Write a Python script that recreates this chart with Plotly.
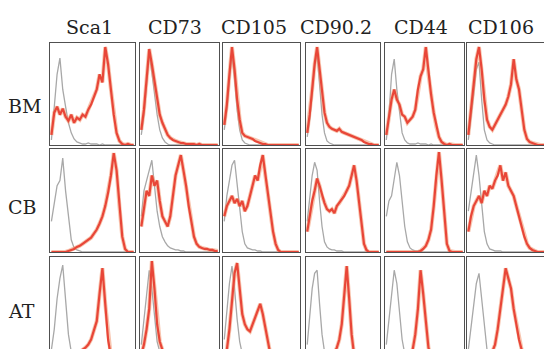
import plotly.graph_objects as go

markers = ["Sca1", "CD73", "CD105", "CD90.2", "CD44", "CD106"]
sources = ["BM", "CB", "AT"]
bins = list(range(30))

# ---- BM row (red = marker, gray = isotype) ----
bm_sca1_red  = [10, 32, 38, 30, 36, 28, 24, 30, 22, 27, 25, 30, 28, 35, 40, 48, 55, 70, 62, 97, 80, 55, 30, 12, 4, 1, 0, 1, 0, 0]
bm_sca1_iso  = [5, 35, 70, 86, 55, 38, 22, 12, 6, 3, 2, 1, 1, 2, 1, 1, 1, 0, 1, 0, 0, 0, 0, 0, 0, 0, 0, 0, 0, 0]
bm_cd73_red  = [15, 35, 65, 95, 80, 62, 45, 30, 22, 15, 10, 7, 5, 4, 3, 2, 2, 1, 1, 1, 1, 0, 1, 0, 0, 0, 0, 0, 0, 0]
bm_cd73_iso  = [10, 30, 60, 90, 72, 50, 30, 15, 7, 3, 1, 0, 0, 0, 0, 0, 0, 0, 0, 0, 0, 0, 0, 0, 0, 0, 0, 0, 0, 0]
bm_cd105_red = [20, 40, 70, 97, 75, 45, 25, 12, 9, 8, 7, 6, 4, 3, 2, 1, 1, 0, 0, 0, 0, 0, 0, 0, 0, 0, 0, 0, 0, 0]
bm_cd105_iso = [15, 35, 65, 90, 65, 35, 15, 5, 2, 1, 0, 0, 0, 0, 0, 0, 0, 0, 0, 0, 0, 0, 0, 0, 0, 0, 0, 0, 0, 0]
bm_cd90_red  = [12, 30, 55, 80, 97, 75, 50, 32, 22, 18, 16, 15, 14, 16, 13, 12, 11, 10, 9, 8, 7, 6, 5, 3, 2, 1, 1, 0, 0, 0]
bm_cd90_iso  = [8, 25, 50, 78, 90, 60, 30, 12, 4, 2, 1, 0, 0, 0, 0, 0, 0, 0, 0, 0, 0, 0, 0, 0, 0, 0, 0, 0, 0, 0]
bm_cd44_red  = [10, 30, 45, 55, 45, 40, 30, 28, 22, 25, 28, 35, 55, 68, 75, 97, 70, 50, 32, 18, 8, 3, 1, 0, 1, 0, 0, 0, 0, 0]
bm_cd44_iso  = [5, 30, 70, 85, 55, 30, 12, 5, 2, 1, 1, 1, 2, 1, 1, 1, 0, 1, 0, 0, 0, 0, 0, 0, 0, 0, 0, 0, 0, 0]
bm_cd106_red = [10, 35, 60, 85, 97, 75, 45, 25, 18, 15, 20, 25, 30, 35, 40, 48, 60, 85, 65, 55, 35, 15, 6, 3, 2, 1, 0, 0, 0, 0]
bm_cd106_iso = [5, 25, 50, 75, 82, 45, 15, 5, 2, 1, 0, 0, 0, 0, 0, 0, 0, 0, 0, 0, 0, 0, 0, 0, 0, 0, 0, 0, 0, 0]

# ---- CB row ----
cb_sca1_red  = [0, 0, 0, 0, 0, 0, 1, 2, 3, 5, 6, 8, 10, 12, 14, 18, 22, 28, 35, 45, 58, 75, 97, 80, 45, 15, 3, 0, 0, 0]
cb_sca1_iso  = [30, 50, 65, 70, 92, 60, 35, 12, 4, 2, 1, 0, 0, 0, 0, 0, 0, 0, 0, 0, 0, 0, 0, 0, 0, 0, 0, 0, 0, 0]
cb_cd73_red  = [25, 45, 60, 55, 75, 65, 70, 50, 35, 30, 25, 35, 55, 75, 85, 95, 80, 65, 45, 30, 15, 8, 5, 4, 3, 3, 2, 2, 1, 1]
cb_cd73_iso  = [35, 60, 70, 80, 90, 65, 40, 25, 15, 10, 6, 4, 3, 2, 2, 1, 1, 0, 0, 0, 0, 0, 0, 0, 0, 0, 0, 0, 0, 0]
cb_cd105_red = [35, 45, 50, 55, 48, 52, 45, 50, 40, 45, 55, 65, 75, 70, 85, 95, 75, 55, 35, 20, 8, 2, 0, 0, 0, 0, 0, 0, 0, 0]
cb_cd105_iso = [30, 55, 70, 85, 90, 65, 40, 20, 8, 4, 3, 2, 2, 1, 1, 0, 0, 0, 0, 0, 0, 0, 0, 0, 0, 0, 0, 0, 0, 0]
cb_cd90_red  = [20, 35, 50, 60, 72, 65, 55, 48, 42, 40, 42, 38, 45, 48, 52, 55, 60, 65, 75, 85, 70, 50, 25, 8, 2, 0, 0, 0, 0, 0]
cb_cd90_iso  = [30, 55, 75, 88, 80, 50, 25, 10, 5, 3, 2, 2, 1, 1, 1, 0, 0, 0, 0, 0, 0, 0, 0, 0, 0, 0, 0, 0, 0, 0]
cb_cd44_red  = [0, 0, 0, 0, 0, 0, 0, 0, 0, 0, 0, 0, 0, 1, 3, 6, 12, 22, 45, 75, 98, 70, 35, 8, 1, 0, 0, 0, 0, 0]
cb_cd44_iso  = [35, 50, 55, 70, 88, 75, 50, 25, 10, 4, 2, 1, 1, 1, 0, 0, 0, 0, 0, 0, 0, 0, 0, 0, 0, 0, 0, 0, 0, 0]
cb_cd106_red = [20, 35, 45, 50, 55, 48, 60, 55, 65, 62, 70, 75, 85, 70, 78, 65, 60, 55, 45, 35, 25, 15, 8, 4, 2, 1, 0, 0, 0, 0]
cb_cd106_iso = [40, 60, 80, 95, 75, 45, 20, 8, 3, 2, 1, 1, 1, 0, 0, 0, 0, 0, 0, 0, 0, 0, 0, 0, 0, 0, 0, 0, 0, 0]

# ---- AT row ----
at_sca1_red  = [0, 0, 0, 0, 0, 0, 0, 0, 2, 5, 8, 10, 12, 15, 20, 28, 38, 65, 90, 55, 20, 3, 0, 0, 0, 0, 0, 0, 0, 0]
at_sca1_iso  = [10, 30, 60, 80, 93, 55, 25, 8, 2, 0, 0, 0, 0, 0, 0, 0, 0, 0, 0, 0, 0, 0, 0, 0, 0, 0, 0, 0, 0, 0]
at_cd73_red  = [5, 15, 30, 50, 97, 70, 35, 18, 10, 6, 4, 3, 2, 1, 1, 0, 0, 0, 0, 0, 0, 0, 0, 0, 0, 0, 0, 0, 0, 0]
at_cd73_iso  = [15, 40, 70, 88, 70, 40, 18, 8, 3, 1, 0, 0, 0, 0, 0, 0, 0, 0, 0, 0, 0, 0, 0, 0, 0, 0, 0, 0, 0, 0]
at_cd105_red = [2, 10, 30, 60, 85, 95, 70, 45, 35, 30, 28, 35, 42, 50, 55, 45, 30, 15, 5, 1, 0, 0, 0, 0, 0, 0, 0, 0, 0, 0]
at_cd105_iso = [20, 45, 75, 92, 70, 40, 18, 6, 2, 0, 0, 0, 0, 0, 0, 0, 0, 0, 0, 0, 0, 0, 0, 0, 0, 0, 0, 0, 0, 0]
at_cd90_red  = [0, 0, 0, 0, 0, 0, 0, 0, 1, 2, 4, 7, 12, 20, 35, 60, 92, 60, 25, 5, 0, 0, 0, 0, 0, 0, 0, 0, 0, 0]
at_cd90_iso  = [15, 40, 70, 85, 88, 55, 25, 8, 2, 0, 0, 0, 0, 0, 0, 0, 0, 0, 0, 0, 0, 0, 0, 0, 0, 0, 0, 0, 0, 0]
at_cd44_red  = [0, 0, 0, 0, 0, 0, 0, 0, 2, 5, 10, 25, 50, 88, 65, 35, 12, 3, 0, 0, 0, 0, 0, 0, 0, 0, 0, 0, 0, 0]
at_cd44_iso  = [15, 40, 70, 88, 75, 45, 20, 6, 2, 0, 0, 0, 0, 0, 0, 0, 0, 0, 0, 0, 0, 0, 0, 0, 0, 0, 0, 0, 0, 0]
at_cd106_red = [0, 0, 0, 0, 0, 0, 0, 2, 4, 8, 15, 30, 50, 75, 90, 80, 70, 50, 35, 20, 10, 5, 2, 0, 0, 0, 0, 0, 0, 0]
at_cd106_iso = [10, 30, 55, 75, 85, 60, 30, 10, 3, 0, 0, 0, 0, 0, 0, 0, 0, 0, 0, 0, 0, 0, 0, 0, 0, 0, 0, 0, 0, 0]

red_rows = [
    [bm_sca1_red, bm_cd73_red, bm_cd105_red, bm_cd90_red, bm_cd44_red, bm_cd106_red],
    [cb_sca1_red, cb_cd73_red, cb_cd105_red, cb_cd90_red, cb_cd44_red, cb_cd106_red],
    [at_sca1_red, at_cd73_red, at_cd105_red, at_cd90_red, at_cd44_red, at_cd106_red],
]
iso_rows = [
    [bm_sca1_iso, bm_cd73_iso, bm_cd105_iso, bm_cd90_iso, bm_cd44_iso, bm_cd106_iso],
    [cb_sca1_iso, cb_cd73_iso, cb_cd105_iso, cb_cd90_iso, cb_cd44_iso, cb_cd106_iso],
    [at_sca1_iso, at_cd73_iso, at_cd105_iso, at_cd90_iso, at_cd44_iso, at_cd106_iso],
]

W, H = 544, 349
col_px = [(50, 135), (140, 219), (223, 300), (306, 380), (385, 464), (467, 547)]
row_px = [(43, 145), (149, 252), (257, 360)]
label_cx = [89, 175, 254, 336, 421, 501]
row_cy = [106, 207, 311]

RED = "rgb(232,70,56)"
HALO = "rgba(242,150,110,0.55)"
GRAY = "rgb(168,168,168)"
FRAME = "rgb(80,80,80)"

fig = go.Figure()
layout = {}
k = 0
for r in range(3):
    t, b = row_px[r]
    for c in range(6):
        k += 1
        l, rr = col_px[c]
        xr_hi = 29.5
        if rr > W:
            xr_hi = -0.5 + 30 * (W - l) / (rr - l)
            rr_eff = W
        else:
            rr_eff = rr
        y_lo = 0
        b_eff = b
        if b > H:
            y_lo = 100 * (b - H) / (b - t)
            b_eff = H
        xa = "x" if k == 1 else f"x{k}"
        ya = "y" if k == 1 else f"y{k}"
        fig.add_trace(go.Scatter(x=bins, y=iso_rows[r][c], mode="lines",
                                 line=dict(color=GRAY, width=1.3), xaxis=xa, yaxis=ya,
                                 showlegend=False, hoverinfo="skip"))
        fig.add_trace(go.Scatter(x=bins, y=red_rows[r][c], mode="lines",
                                 line=dict(color=HALO, width=4), xaxis=xa, yaxis=ya,
                                 showlegend=False, hoverinfo="skip"))
        fig.add_trace(go.Scatter(x=bins, y=red_rows[r][c], mode="lines",
                                 line=dict(color=RED, width=2.2), xaxis=xa, yaxis=ya,
                                 showlegend=False, hoverinfo="skip"))
        xname = "xaxis" if k == 1 else f"xaxis{k}"
        yname = "yaxis" if k == 1 else f"yaxis{k}"
        xdict = dict(domain=[l / W, rr_eff / W], range=[-0.5, xr_hi], anchor=ya,
                     showgrid=False, zeroline=False, showticklabels=False, ticks="",
                     showline=True, linecolor=FRAME, linewidth=1, mirror=True)
        if b > H:
            xdict.update(side="top", mirror=False)
        ydict = dict(domain=[1 - b_eff / H, 1 - t / H], range=[y_lo, 101], anchor=xa,
                     showgrid=False, zeroline=False, showticklabels=False, ticks="",
                     showline=True, linecolor=FRAME, linewidth=1, mirror=True)
        if rr > W:
            ydict.update(mirror=False)
        layout[xname] = xdict
        layout[yname] = ydict

annotations = []
for c, name in enumerate(markers):
    annotations.append(dict(text=name, x=label_cx[c] / W, y=1 - 27 / H, xref="paper", yref="paper",
                            xanchor="center", yanchor="middle", showarrow=False,
                            font=dict(family="DejaVu Serif", size=19, color="#222")))
for r, name in enumerate(sources):
    annotations.append(dict(text=name, x=6 / W, y=1 - row_cy[r] / H, xref="paper", yref="paper",
                            xanchor="left", yanchor="middle", showarrow=False,
                            font=dict(family="DejaVu Serif", size=19, color="#222")))

fig.update_layout(width=W, height=H, margin=dict(l=0, r=0, t=0, b=0),
                  paper_bgcolor="white", plot_bgcolor="white",
                  annotations=annotations, **layout)
fig.write_html("out.html", config={"displayModeBar": False})

with open("out.html", "r", encoding="utf-8") as fh:
    html = fh.read()
html = html.replace("<head>", "<head><style>html,body{margin:0;padding:0;overflow:hidden;}</style>", 1)
with open("out.html", "w", encoding="utf-8") as fh:
    fh.write(html)
